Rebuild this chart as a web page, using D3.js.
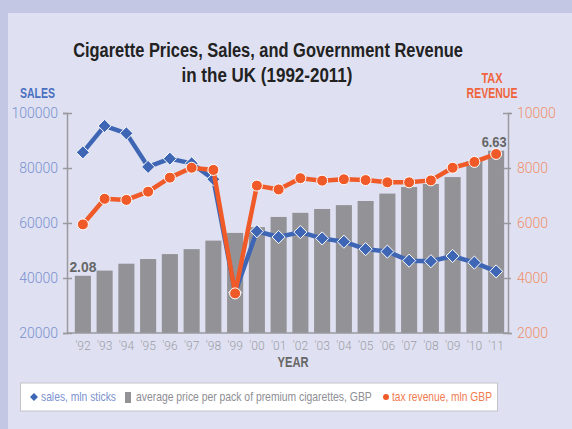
<!DOCTYPE html>
<html>
<head>
<meta charset="utf-8">
<script src="https://cdn.jsdelivr.net/npm/d3@7"></script>
<style>
  body { margin: 0; background: #c3c7e4; }
  svg { display: block; }
</style>
</head>
<body>
<svg width="572" height="429"></svg>
<script>
var years = ["'92","'93","'94","'95","'96","'97","'98","'99","'00","'01","'02","'03","'04","'05","'06","'07","'08","'09","'10","'11"];
var sales = [85700, 95300, 92600, 80400, 83400, 81700, 75900, 34700, 57000, 54900, 56700, 54400, 53200, 50500, 49600, 46300, 46100, 48000, 45600, 42400];
var price = [2.08, 2.27, 2.52, 2.69, 2.87, 3.05, 3.36, 3.64, 3.85, 4.22, 4.37, 4.51, 4.65, 4.80, 5.07, 5.31, 5.42, 5.67, 6.25, 6.63];
var taxRevenue = [5950, 6880, 6840, 7140, 7650, 8010, 7930, 3440, 7360, 7220, 7630, 7540, 7590, 7560, 7480, 7480, 7550, 8010, 8220, 8510];
var salesTicks = [20000, 40000, 60000, 80000, 100000];
var taxTicks = [2000, 4000, 6000, 8000, 10000];

var svg = d3.select("svg");
var blue = "#3f66b4", orange = "#f05a28", grey = "#939397";
var sans = "'Liberation Sans', Arial, sans-serif";

// the original uses a condensed face: squeeze the text horizontally to width w
function fit(g, xp, yp, w) {
	var t = g.select("text");
	var n = t.node().getComputedTextLength();
	g.attr("transform", "translate(" + xp + "," + yp + ") scale(" + (w / n) + ",1)");
	return g;
}
function ctext(parent, xp, yp, txt, w, size, weight, col, anchor) {
	var g = parent.append("g");
	g.append("text").attr("text-anchor", anchor || "start").text(txt)
		.attr("font-family", sans).attr("font-weight", weight).attr("font-size", size).attr("fill", col);
	return fit(g, xp, yp, w);
}

// background panel
svg.append("rect").attr("x", 8).attr("y", 13).attr("width", 564).attr("height", 416).attr("fill", "#dfe1f2");

var plotL = 67, plotR = 508, plotT = 113, plotB = 333;

var x = d3.scaleBand().domain(years).range([72, 507]).paddingInner(0.26).paddingOuter(0.13);
var ySales = d3.scaleLinear().domain([20000, 100000]).range([plotB, plotT]);
var yTax = d3.scaleLinear().domain([2000, 10000]).range([plotB, plotT]);
var yPrice = d3.scaleLinear().domain([0, 8]).range([plotB, plotT]);

// title
ctext(svg, 268, 57, "Cigarette Prices, Sales, and Government Revenue", 390, 21, "bold", "#222", "middle");
ctext(svg, 267, 82, "in the UK (1992-2011)", 171, 21, "bold", "#222", "middle");

ctext(svg, 20, 98, "SALES", 35, 15, "bold", "#4a6fc0");
ctext(svg, 492, 83, "TAX", 21, 14, "bold", "#f0643c", "middle");
ctext(svg, 492, 98, "REVENUE", 51, 14, "bold", "#f0643c", "middle");

// bars
svg.append("g").selectAll("rect")
	.data(price)
	.enter().append("rect")
	.attr("x", (d, i) => x(years[i]))
	.attr("y", d => yPrice(d))
	.attr("width", x.bandwidth())
	.attr("height", d => plotB - yPrice(d))
	.attr("fill", grey);

// axes
var gl = svg.append("g").attr("transform", "translate(" + plotL + ",0)")
	.call(d3.axisLeft(ySales).tickValues(salesTicks).tickSize(4).tickPadding(5).tickFormat(d3.format("d")));
gl.selectAll(".tick line").attr("x2", 5).attr("x1", -4);
var gr = svg.append("g").attr("transform", "translate(" + plotR + ",0)")
	.call(d3.axisRight(yTax).tickValues(taxTicks).tickSize(4).tickPadding(5).tickFormat(d3.format("d")));
gr.selectAll(".tick line").attr("x1", -5).attr("x2", 3);
var gx = svg.append("g").attr("transform", "translate(0," + plotB + ")")
	.call(d3.axisBottom(x).tickSize(0).tickPadding(8));
gx.select(".domain").attr("d", "M" + plotL + ",0H" + plotR);

[gl, gr, gx].forEach(function(g) {
	g.select(".domain").attr("stroke", "#9a9a9e").attr("stroke-width", 1.5);
	g.selectAll(".tick line").attr("stroke", "#9a9a9e").attr("stroke-width", 1.5);
	g.selectAll("text").attr("font-family", "Roboto, sans-serif").attr("font-weight", 300);
});
gl.selectAll("text").attr("font-size", 14).attr("fill", "#7a91cf");
gr.selectAll("text").attr("font-size", 14).attr("fill", "#f08f6a");
gx.selectAll("text").attr("font-size", 12).attr("fill", "#9d9da5");

ctext(svg, 293, 367, "YEAR", 31, 15, "bold", "#666", "middle");

// value labels at both ends
ctext(svg, x(years[0]) + x.bandwidth() / 2, yPrice(price[0]) - 4, price[0].toFixed(2), 27, 15, "bold", "#666", "middle");
ctext(svg, x(years[19]) + x.bandwidth() / 2 - 2, yPrice(price[19]) - 4, price[19].toFixed(2), 25, 15, "bold", "#666", "middle");

var cx = (d, i) => x(years[i]) + x.bandwidth() / 2;

// sales line
svg.append("path").datum(sales)
	.attr("fill", "none").attr("stroke", blue).attr("stroke-width", 4.5).attr("stroke-linejoin", "round")
	.attr("d", d3.line().x(cx).y(d => ySales(d)));
svg.append("g").selectAll("path")
	.data(sales)
	.enter().append("path")
	.attr("transform", (d, i) => "translate(" + cx(d, i) + "," + ySales(d) + ")")
	.attr("d", d3.symbol().type(d3.symbolDiamond2).size(110))
	.attr("fill", blue).attr("stroke", "#fff").attr("stroke-width", 1);

// tax line
svg.append("path").datum(taxRevenue)
	.attr("fill", "none").attr("stroke", orange).attr("stroke-width", 4.5).attr("stroke-linejoin", "round")
	.attr("d", d3.line().x(cx).y(d => yTax(d)));
svg.append("g").selectAll("circle")
	.data(taxRevenue)
	.enter().append("circle")
	.attr("cx", cx).attr("cy", d => yTax(d)).attr("r", 5.5)
	.attr("fill", orange).attr("stroke", "#fff").attr("stroke-width", 1);

// legend
var lg = svg.append("g");
lg.append("rect").attr("x", 20.5).attr("y", 383).attr("width", 477).attr("height", 28)
	.attr("fill", "#fff").attr("stroke", "#c4c4c8");
lg.append("path").attr("transform", "translate(34,397)")
	.attr("d", d3.symbol().type(d3.symbolDiamond2).size(40)).attr("fill", blue);
ctext(lg, 41, 401, "sales, mln sticks", 75, 13, "normal", "#7a91cf");
lg.append("rect").attr("x", 125).attr("y", 392).attr("width", 6).attr("height", 11).attr("fill", grey);
ctext(lg, 136, 401, "average price per pack of premium cigarettes, GBP", 236, 13, "normal", "#8e8e94");
lg.append("circle").attr("cx", 386).attr("cy", 397).attr("r", 3).attr("fill", orange);
ctext(lg, 392, 401, "tax revenue, mln GBP", 100, 13, "normal", "#f07a50");
</script>
</body>
</html>
